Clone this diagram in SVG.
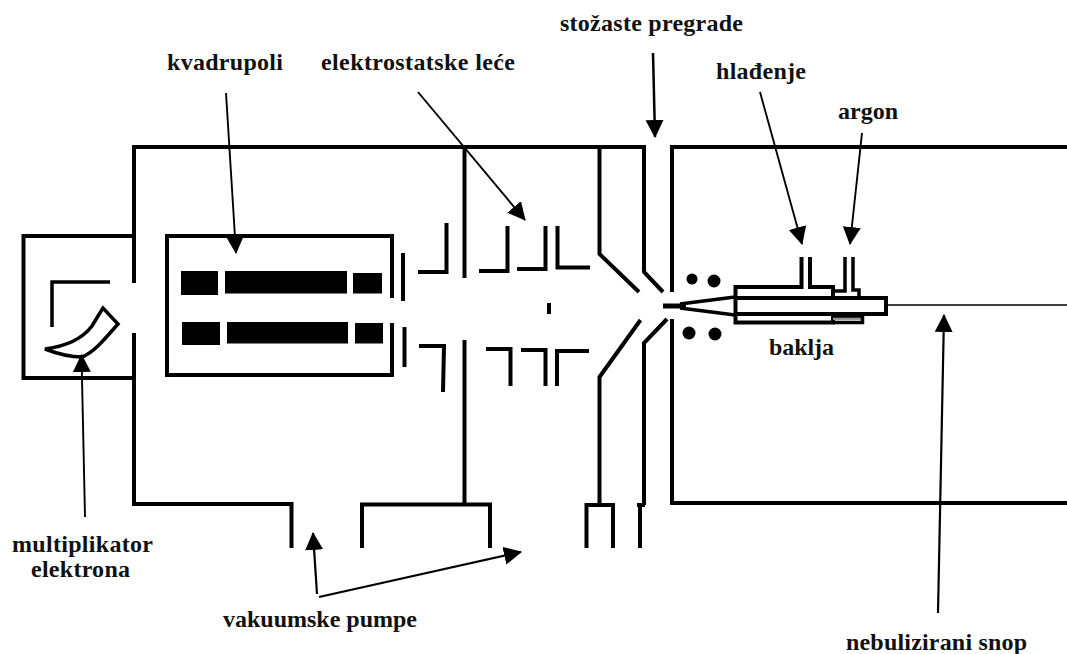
<svg xmlns="http://www.w3.org/2000/svg" width="1067" height="654" viewBox="0 0 1067 654">
<style>
.w{fill:none;stroke:#000;stroke-width:4;stroke-linejoin:miter}
.t{fill:none;stroke:#000;stroke-width:3.500}
.b{fill:#000}
.a{stroke:#000;stroke-width:1.900;fill:none;marker-end:url(#h)}
text{font-family:"Liberation Serif","Times New Roman",serif;font-weight:bold;font-size:24px;fill:#111}
</style>
<defs><marker id="h" markerUnits="userSpaceOnUse" markerWidth="20" markerHeight="20" refX="17" refY="9" orient="auto"><path d="M0 0L18 9L0 18Z" fill="#000"/></marker></defs>
<rect width="1067" height="654" fill="#fff"/>
<g id="housing">
<path class="w" d="M134 283V147H644V272L663 292"/>
<path class="w" d="M134 333V504H291.500V548"/>
<path class="w" d="M362 548V504.500H490V548"/>
<path class="w" d="M464.500 147V278M464.500 340V504"/>
<path class="w" d="M586.500 548V505H613V548M599.500 505V377L640.500 320M599.500 147V254L639 292"/>
<path class="w" d="M667 319L644 343V505M637 505H645M640 505V548"/>
<path class="w" d="M1067 147H672V292M672 319V503H1067"/>
</g>
<g id="detector">
<path class="w" d="M134 236H23.500V378H134"/>
<path class="t" d="M52 327V282H110"/>
<path class="t" d="M45 349C60 347 80 342 92 326Q98 316 103 308L118 324C108 335 95 352 82 357C70 357 58 354 45 349Z"/>
</g>
<g id="quadrupole">
<path class="w" d="M392 298V236H167V375H392V323"/>
<rect class="b" x="181" y="271" width="37" height="24"/><rect class="b" x="225" y="271" width="122" height="22.500"/><rect class="b" x="353" y="273" width="29" height="20.500"/>
<rect class="b" x="182" y="322" width="38" height="23"/><rect class="b" x="227" y="322" width="121" height="21.500"/><rect class="b" x="355" y="323" width="28" height="20.500"/>
</g>
<g id="lenses">
<path class="w" d="M403 253V301M404.500 327V367"/>
<path class="w" d="M418 272H446.500V223M419 346H444L443 392"/>
<path class="w" d="M479 271H507.500V226M517 269H545.500V226M557.500 226V267.500H590"/>
<path class="w" d="M486 349H510.500V386M521 350H545.500V386M589 351H557V386M549 303V314"/>
</g>
<g id="torch">
<circle class="b" cx="692" cy="279" r="5.500"/><circle class="b" cx="714" cy="281" r="6.500"/><circle class="b" cx="689" cy="333" r="6.500"/><circle class="b" cx="715" cy="334" r="6.500"/>
<path d="M663 306H686" fill="none" stroke="#000" stroke-width="5"/>
<path class="t" d="M680 304L735 297M680 308L735 315"/>
<path class="w" d="M801.500 257V287H735.500V322.500H833V314M833 298V287H810V257"/>
<path class="w" d="M735.500 298H886V314H735.500"/>
<path d="M833 316H862V320H833Z" fill="#999"/>
<path class="t" d="M833 291H845V257M853 257V290H859V298M833 316H862.500V322.500H833"/>
</g>
<g id="connectors">
<path d="M886 305H1067" stroke="#000" stroke-width="1.500" fill="none"/>
<path class="a" d="M226 93L236 253"/>
<path class="a" d="M85 517L81.500 355"/>
<path class="a" d="M418 92L525 220"/>
<path class="a" style="stroke-width:2.500" d="M653 53L655 137"/>
<path class="a" d="M760 92L802 244"/>
<path class="a" d="M862 133L850 244"/>
<path class="a" style="stroke-width:2.200" d="M938 613L944 315"/>
<path class="a" style="stroke-width:2.200" d="M317 594L313 533"/>
<path class="a" style="stroke-width:2.200" d="M319 597L521 552"/>
</g>
<g id="labels">
<text x="167" y="70" textLength="116">kvadrupoli</text>
<text x="321" y="70" textLength="194">elektrostatske leće</text>
<text x="560" y="31" textLength="183">stožaste pregrade</text>
<text x="716" y="79" textLength="90">hlađenje</text>
<text x="838" y="119" textLength="60">argon</text>
<text x="769" y="355" textLength="65">baklja</text>
<text x="12" y="552" textLength="141">multiplikator</text>
<text x="31" y="577" textLength="99">elektrona</text>
<text x="223" y="627" textLength="194">vakuumske pumpe</text>
<text x="846" y="650" textLength="181">nebulizirani snop</text>
</g>
</svg>
